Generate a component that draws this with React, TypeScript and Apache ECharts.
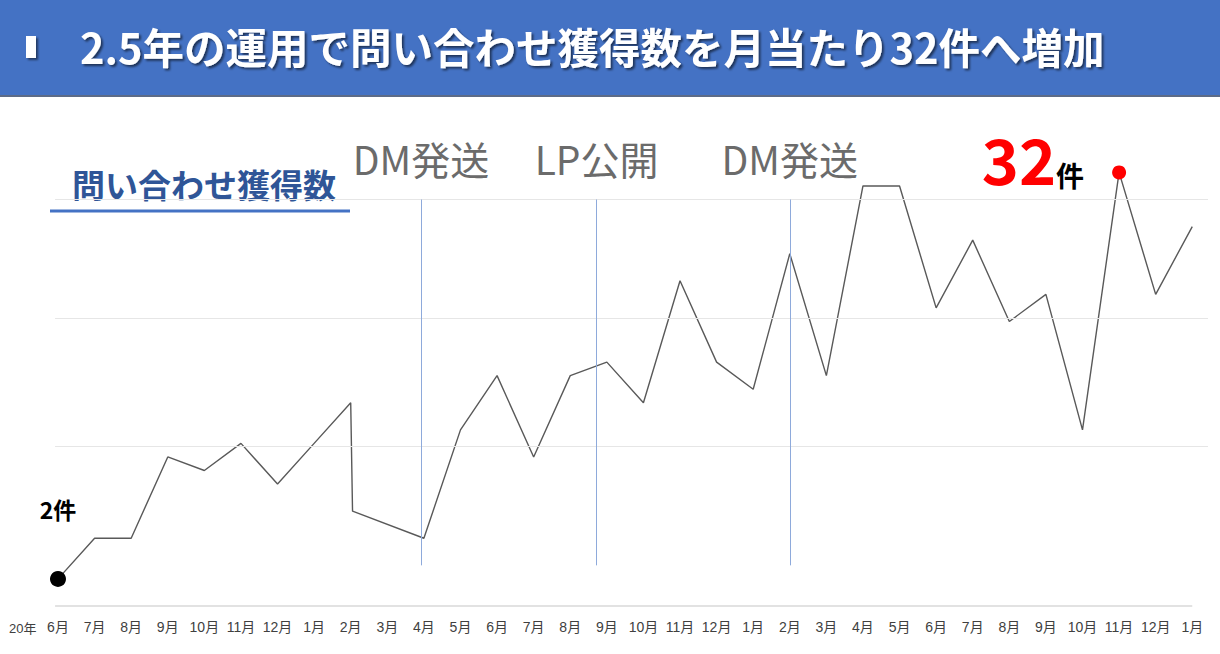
import React, { useEffect, useRef } from "react";
import * as echarts from "echarts";

// ---- data ----
const monthLabels = [
  "6月", "7月", "8月", "9月", "10月", "11月", "12月",
  "1月", "2月", "3月", "4月", "5月", "6月", "7月", "8月", "9月", "10月", "11月", "12月",
  "1月", "2月", "3月", "4月", "5月", "6月", "7月", "8月", "9月", "10月", "11月", "12月",
  "1月",
];
// month position of each vertex of the line (the 2月 drop falls just after 2月)
const inquiryX = [0, 1, 2, 3, 4, 5, 6, 7, 8, 8.05, 10, 11, 12, 13, 14, 15, 16, 17, 18, 19, 20, 21, 22, 23, 24, 25, 26, 27, 28, 29, 30, 31];
const inquiryCounts = [2, 5, 5, 11, 10, 12, 9, 12, 15, 7, 5, 13, 17, 11, 17, 18, 15, 24, 18, 16, 26, 17, 31, 31, 22, 27, 21, 23, 13, 32, 23, 28];
const events = [
  { x: 9.92, label: "DM発送" },
  { x: 14.72, label: "LP公開" },
  { x: 20, label: "DM発送" },
];
const gridValues = [11.8, 21.2, 30];
const yearLabel = "20年";
const titleText = "2.5年の運用で問い合わせ獲得数を月当たり32件へ増加";
const subtitleText = "問い合わせ獲得数";

const JP = "'Noto Sans CJK JP', 'Noto Sans', sans-serif";
const AX = "'Liberation Sans', 'Noto Sans CJK JP', sans-serif";

const X_MIN = -0.08;
const X_MAX = 31.43;

export default function App() {
  const ref = useRef<HTMLDivElement>(null);
  useEffect(() => {
    if (!ref.current) return;
    const chart = echarts.init(ref.current, undefined, { renderer: "svg" });
    const lineData = inquiryX.map((x, i) => [x, inquiryCounts[i]]);
    const startIdx = 0;
    const maxIdx = inquiryCounts.indexOf(Math.max(...inquiryCounts));
    const labelPositions = monthLabels.map((_, i) => i);

    const hLines: any[] = [
      [
        { coord: [X_MIN, 0], lineStyle: { color: "#d9d9d9", width: 1.5, type: "solid" }, label: { show: false } },
        { coord: [31, 0] },
      ],
      ...gridValues.map((v) => [
        { coord: [X_MIN, v], lineStyle: { color: "#e6e6e6", width: 1, type: "solid" }, label: { show: false } },
        { coord: [X_MAX, v] },
      ]),
    ];
    const vLines: any[] = events.map((e) => [
      {
        coord: [e.x, 3],
        lineStyle: { color: "#8eaadb", width: 1, type: "solid" },
        label: {
          show: true,
          position: "end",
          distance: 22,
          formatter: e.label,
          color: "#6b6b6b",
          fontSize: 39,
          fontFamily: JP,
        },
      },
      { coord: [e.x, 30] },
    ]);

    const option: any = {
      animation: false,
      grid: { left: 55.07, right: 12, top: 172.4, bottom: 48 },
      xAxis: {
        type: "value",
        min: X_MIN,
        max: X_MAX,
        axisLine: { show: false },
        axisTick: { show: false },
        splitLine: { show: false },
        axisLabel: {
          customValues: labelPositions,
          formatter: (v: number) => monthLabels[Math.round(v)] ?? "",
          color: "#404040",
          fontSize: 14,
          margin: 14,
          fontFamily: AX,
        },
      },
      yAxis: { type: "value", min: 0, max: 32, show: false },
      series: [
        {
          type: "line",
          z: 2,
          data: lineData,
          symbol: "none",
          clip: false,
          silent: true,
          lineStyle: { color: "#595959", width: 1.4 },
          markLine: {
            silent: true,
            symbol: ["none", "none"],
            label: { show: false },
            data: [...hLines, ...vLines],
          },
        },
        {
          type: "scatter",
          z: 5,
          clip: false,
          silent: true,
          itemStyle: { opacity: 1 },
          data: [
            {
              value: [inquiryX[startIdx], inquiryCounts[startIdx]],
              symbolSize: 16,
              itemStyle: { color: "#000000", opacity: 1 },
              label: {
                show: true,
                position: "top",
                distance: 50,
                formatter: `${inquiryCounts[startIdx]}件`,
                color: "#000000",
                fontSize: 23,
                fontWeight: "bold",
                fontFamily: JP,
              },
            },
            {
              value: [inquiryX[maxIdx], inquiryCounts[maxIdx]],
              symbolSize: 14,
              itemStyle: { color: "#ff0000", opacity: 1 },
              label: {
                show: true,
                position: "left",
                distance: 28,
                offset: [0, -14],
                formatter: `{a|${inquiryCounts[maxIdx]}}{b|件}`,
                rich: {
                  a: { fontSize: 63, fontWeight: "bold", color: "#ff0000", fontFamily: JP, verticalAlign: "bottom", lineHeight: 62 },
                  b: { fontSize: 28, fontWeight: "bold", color: "#000000", fontFamily: JP, verticalAlign: "bottom", lineHeight: 36 },
                },
              },
            },
          ],
        },
      ],
      graphic: [
        { type: "rect", left: 0, top: 0, shape: { width: 1220, height: 95 }, style: { fill: "#4472c4" }, silent: true },
        { type: "rect", left: 0, top: 95, shape: { width: 1220, height: 2 }, style: { fill: "#5d6b87" }, silent: true },
        {
          type: "rect", left: 26, top: 36, shape: { width: 10, height: 22 },
          style: { fill: "#ffffff", shadowColor: "rgba(0,0,0,0.5)", shadowOffsetX: 2, shadowOffsetY: 2, shadowBlur: 2 },
          silent: true,
        },
        {
          type: "text", x: 80, y: 46, silent: true,
          style: {
            text: titleText, fill: "#ffffff", font: `bold 41.5px ${JP}`,
            textVerticalAlign: "middle", verticalAlign: "middle",
            textShadowColor: "rgba(0,0,0,0.55)", textShadowOffsetX: 2, textShadowOffsetY: 2, textShadowBlur: 2,
          },
        },
        {
          type: "text", x: 72, y: 184, silent: true,
          style: { text: subtitleText, fill: "#2f5597", font: `bold 33px ${JP}`, verticalAlign: "middle" },
        },
        { type: "rect", left: 50, top: 209.5, shape: { width: 300, height: 3 }, style: { fill: "#4472c4" }, silent: true },
        {
          type: "text", x: 9, y: 628, silent: true,
          style: { text: yearLabel, fill: "#404040", font: `13px ${AX}`, verticalAlign: "middle" },
        },
      ],
    };
    chart.setOption(option);
    return () => chart.dispose();
  }, []);
  return (
    <div
      ref={ref}
      style={{ position: "fixed", left: 0, top: 0, width: 1220, height: 654, background: "#ffffff" }}
    />
  );
}
